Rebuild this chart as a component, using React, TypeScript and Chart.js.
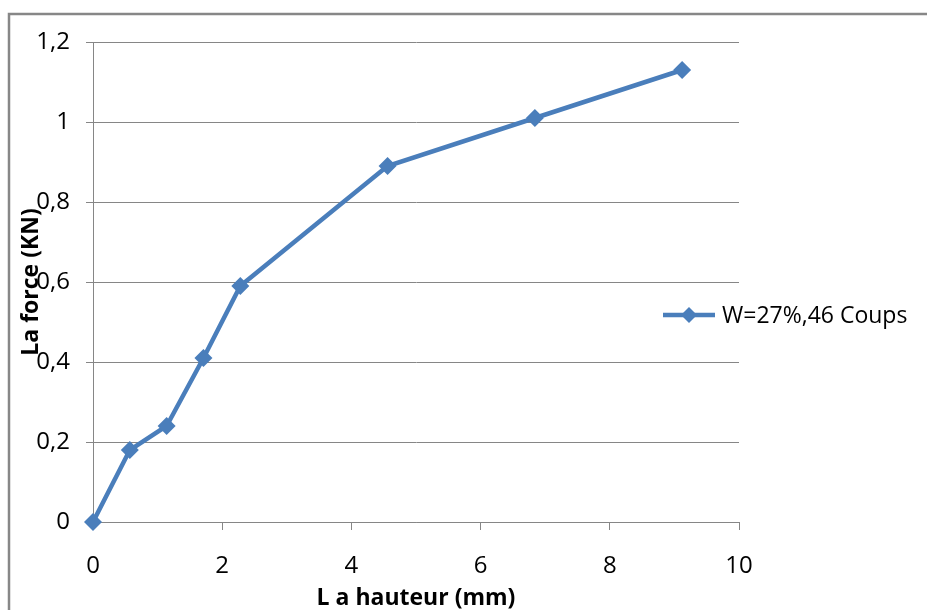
import React, { useEffect, useRef } from "react";
import { Chart, registerables } from "chart.js";

Chart.register(...registerables);

const seriesLabel = "W=27%,46 Coups";
const hauteurMm = [0, 0.57, 1.14, 1.71, 2.28, 4.56, 6.84, 9.12];
const forceKN = [0, 0.18, 0.24, 0.41, 0.59, 0.89, 1.01, 1.13];
const xTickLabels = ["0", "2", "4", "6", "8", "10"];
const yTickLabels = ["0", "0,2", "0,4", "0,6", "0,8", "1", "1,2"];
const xTitle = "L a hauteur (mm)";
const yTitle = "La force (KN)";

const BLUE = "#4a7ebb";
const GRID = "#868686";
const FONT = "'Open Sans', 'DejaVu Sans', sans-serif";

const framePlugin = {
  id: "frame",
  beforeDraw(chart: any) {
    const { ctx } = chart;
    ctx.save();
    ctx.strokeStyle = "#878787";
    ctx.lineWidth = 2.5;
    ctx.strokeRect(9, 14, 2000, 2000);
    ctx.restore();
  },
};

const legendPlugin = {
  id: "customLegend",
  afterDraw(chart: any) {
    const { ctx, chartArea } = chart;
    const ds = chart.data.datasets[0];
    const x0 = chartArea.right - 76;
    const y = 315;
    ctx.save();
    ctx.strokeStyle = ds.borderColor;
    ctx.lineWidth = ds.borderWidth;
    ctx.beginPath();
    ctx.moveTo(x0, y);
    ctx.lineTo(x0 + 52, y);
    ctx.stroke();
    const cx = x0 + 26;
    const r = 8;
    ctx.fillStyle = ds.pointBackgroundColor;
    ctx.beginPath();
    ctx.moveTo(cx - r, y);
    ctx.lineTo(cx, y - r);
    ctx.lineTo(cx + r, y);
    ctx.lineTo(cx, y + r);
    ctx.closePath();
    ctx.fill();
    ctx.fillStyle = "#000";
    ctx.font = `23px ${FONT}`;
    ctx.textBaseline = "middle";
    ctx.textAlign = "left";
    ctx.fillText(ds.label, x0 + 59, y + 1);
    ctx.restore();
  },
};

export default function App() {
  const ref = useRef<HTMLCanvasElement>(null);
  useEffect(() => {
    if (!ref.current) return;
    const chart = new Chart(ref.current, {
      type: "line",
      data: {
        datasets: [
          {
            label: seriesLabel,
            data: hauteurMm.map((x, i) => ({ x, y: forceKN[i] })),
            borderColor: BLUE,
            backgroundColor: BLUE,
            pointBackgroundColor: BLUE,
            borderWidth: 4.5,
            pointStyle: "rectRot",
            pointRadius: 9,
            pointBorderWidth: 0,
            tension: 0,
            fill: false,
            clip: false,
          } as any,
        ],
      },
      options: {
        responsive: false,
        animation: false,
        devicePixelRatio: 1,
        layout: { padding: { top: 42, right: 188, bottom: 0, left: 0 } },
        plugins: {
          legend: { display: false },
          tooltip: { enabled: false },
        },
        scales: {
          x: {
            type: "linear",
            min: 0,
            max: 10,
            afterFit: (s: any) => {
              s.height = 88;
            },
            border: { display: true, color: GRID, width: 1 },
            grid: {
              drawOnChartArea: false,
              drawTicks: true,
              tickLength: 8,
              color: GRID,
            },
            ticks: {
              stepSize: 2,
              padding: 22,
              color: "#000",
              font: { family: FONT, size: 24 },
              callback: (_v: any, i: number) => xTickLabels[i],
            },
            title: {
              display: true,
              text: xTitle,
              color: "#000",
              font: { family: FONT, size: 23, weight: "bold", lineHeight: 1 },
              padding: { top: 0, bottom: 0 },
            },
          },
          y: {
            type: "linear",
            min: 0,
            max: 1.2,
            afterFit: (s: any) => {
              s.width = 93;
            },
            border: { display: true, color: GRID, width: 1 },
            grid: {
              drawOnChartArea: true,
              drawTicks: true,
              tickLength: 7,
              color: GRID,
            },
            ticks: {
              stepSize: 0.2,
              padding: 16,
              color: "#000",
              font: { family: FONT, size: 24 },
              callback: (_v: any, i: number) => yTickLabels[i],
            },
            title: {
              display: true,
              text: yTitle,
              color: "#000",
              font: { family: FONT, size: 23, weight: "bold", lineHeight: 1 },
              padding: { top: 20, bottom: 0 },
            },
          },
        },
      },
      plugins: [framePlugin, legendPlugin],
    });
    return () => chart.destroy();
  }, []);
  return (
    <div style={{ position: "fixed", left: 0, top: 0, width: 927, height: 610, overflow: "hidden", background: "#fff" }}>
      <canvas ref={ref} width={927} height={610} style={{ display: "block" }} />
    </div>
  );
}
